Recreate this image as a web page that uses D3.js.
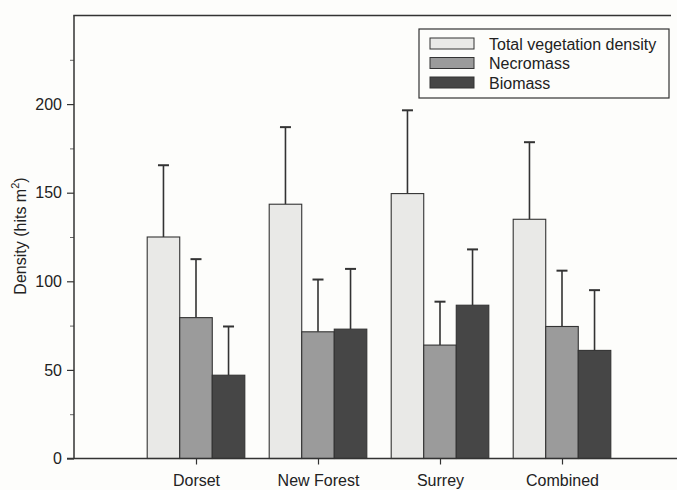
<!DOCTYPE html>
<html>
<head>
<meta charset="utf-8">
<script src="https://cdn.jsdelivr.net/npm/d3@7"></script>
<style>
  html, body { margin: 0; padding: 0; background: #fdfdfb; }
  text { font-family: "Liberation Sans", Arial, Helvetica, sans-serif; fill: #222; }
</style>
</head>
<body>
<svg id="chart" width="677" height="490"></svg>
<script>
const categories = ["Dorset", "New Forest", "Surrey", "Combined"];
const seriesNames = ["Total vegetation density", "Necromass", "Biomass"];
const totalMean = [125, 143.5, 149.5, 135];
const totalErr  = [165.5, 187, 196.5, 178.5];
const necroMean = [79.5, 71.5, 64, 74.5];
const necroErr  = [112.5, 101, 88.5, 106];
const bioMean   = [47, 73, 86.5, 61];
const bioErr    = [74.5, 107, 118, 95];
const yMajorTicks = [0, 50, 100, 150, 200];
const yMinorTicks = [25, 75, 125, 175, 225];
const colors = ["#e9e9e7", "#9b9b9b", "#464646"];

const series = [
  {name: seriesNames[0], mean: totalMean, err: totalErr},
  {name: seriesNames[1], mean: necroMean, err: necroErr},
  {name: seriesNames[2], mean: bioMean, err: bioErr}
];

const svg = d3.select("#chart");
const x = d3.scaleLinear().domain([0, 5]).range([74, 684]);
const y = d3.scaleLinear().domain([0, 250]).range([458.5, 15.5]);
const groupW = (x(1) - x(0)) * 0.8;
const barW = groupW / 3;
const ink = "#333";

// bars
series.forEach((s, si) => {
  const g = svg.append("g");
  categories.forEach((c, ci) => {
    const x0 = x(ci + 1) - groupW / 2 + si * barW;
    const cx = x0 + barW / 2;
    g.append("line").attr("x1", cx).attr("x2", cx)
      .attr("y1", y(s.mean[ci])).attr("y2", y(s.err[ci]))
      .attr("stroke", ink).attr("stroke-width", 1.6);
    g.append("line").attr("x1", cx - 5.5).attr("x2", cx + 5.5)
      .attr("y1", y(s.err[ci])).attr("y2", y(s.err[ci]))
      .attr("stroke", ink).attr("stroke-width", 2);
    g.append("rect")
      .attr("x", x0).attr("width", barW)
      .attr("y", y(s.mean[ci])).attr("height", y(0) - y(s.mean[ci]))
      .attr("fill", colors[si]).attr("stroke", ink).attr("stroke-width", 1.1);
  });
});

// y axis
const yAxis = d3.axisLeft(y).tickValues(yMajorTicks).tickSize(7).tickPadding(5);
const ya = svg.append("g").attr("transform", "translate(74,0)").call(yAxis);
ya.select(".domain").remove();
ya.selectAll(".tick line").attr("stroke", ink).attr("stroke-width", 1.2);
ya.selectAll(".tick text").style("font-size", "16px").attr("fill", "#222")
  .style("font-family", '"Liberation Sans", Arial, sans-serif');
const yMinor = d3.axisLeft(y).tickValues(yMinorTicks).tickSize(4).tickFormat("");
const ym = svg.append("g").attr("transform", "translate(74,0)").call(yMinor);
ym.select(".domain").remove();
ym.selectAll(".tick line").attr("stroke", "#666").attr("stroke-width", 1);

svg.append("line").attr("x1", 74).attr("x2", 74).attr("y1", y(250)).attr("y2", y(0))
  .attr("stroke", ink).attr("stroke-width", 1.5);
svg.append("line").attr("x1", 73.3).attr("x2", 671).attr("y1", y(250)).attr("y2", y(250))
  .attr("stroke", ink).attr("stroke-width", 1.5);

// x axis
const xAxis = d3.axisBottom(x).tickValues([1, 2, 3, 4])
  .tickFormat((d) => categories[d - 1]).tickSize(6).tickPadding(10);
const xa = svg.append("g").attr("transform", `translate(0,${y(0)})`).call(xAxis);
xa.select(".domain").remove();
xa.selectAll(".tick line").attr("stroke", ink).attr("stroke-width", 1.2);
xa.selectAll(".tick text").style("font-size", "16px").attr("fill", "#222")
  .style("font-family", '"Liberation Sans", Arial, sans-serif');
svg.append("line").attr("x1", 67).attr("x2", 677).attr("y1", y(0)).attr("y2", y(0))
  .attr("stroke", ink).attr("stroke-width", 1.5);

// y title
const yt = svg.append("text")
  .attr("transform", "translate(26,236) rotate(-90)")
  .attr("text-anchor", "middle").style("font-size", "16px");
yt.append("tspan").text("Density (hits m");
yt.append("tspan").text("2").style("font-size", "11px").attr("dy", -7);
yt.append("tspan").text(")").attr("dy", 7);

// legend
const lg = svg.append("g");
lg.append("rect").attr("x", 419).attr("y", 29).attr("width", 250).attr("height", 69)
  .attr("fill", "none").attr("stroke", ink).attr("stroke-width", 1.2);
series.forEach((s, i) => {
  const cy = 43.5 + i * 19.5;
  lg.append("rect").attr("x", 430).attr("y", cy - 5.5).attr("width", 44).attr("height", 11)
    .attr("fill", colors[i]).attr("stroke", ink).attr("stroke-width", 1);
  lg.append("text").attr("x", 489).attr("y", cy + 6).style("font-size", "16px").text(s.name);
});
</script>
</body>
</html>
